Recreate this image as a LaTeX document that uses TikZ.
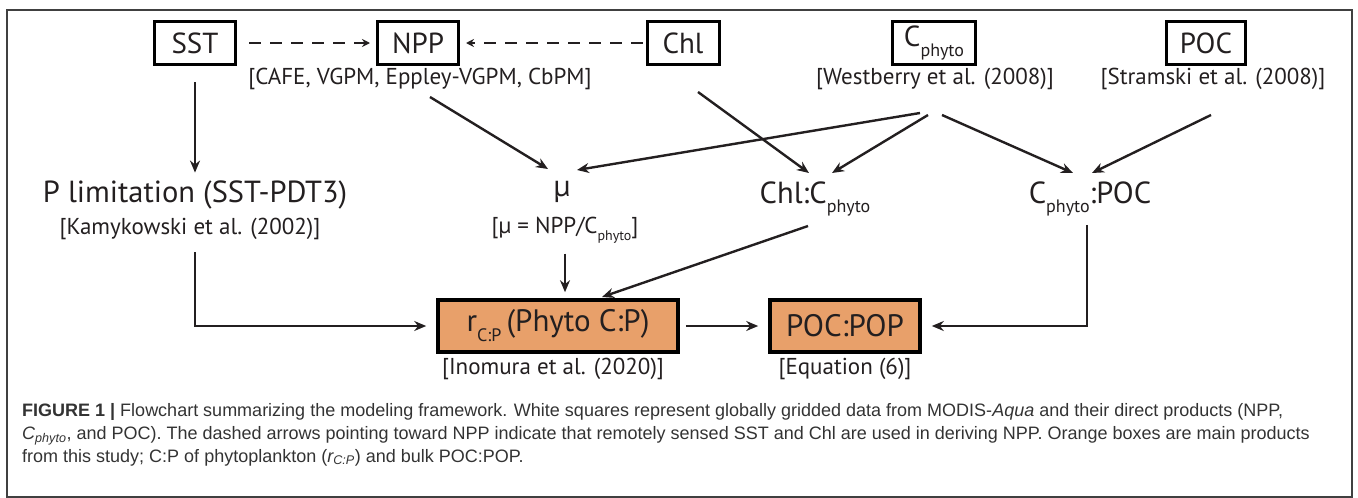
\documentclass[tikz,border=0pt]{standalone}
\usepackage{fontspec}
\setmainfont{PT Sans}
\newfontfamily\capfont{Liberation Sans}
\usetikzlibrary{arrows.meta}
\definecolor{orangebox}{HTML}{E8A06A}
\definecolor{ink}{HTML}{231F20}
\definecolor{capgray}{HTML}{333333}
\newcommand{\sbx}[2]{\raisebox{-0.32em}{\fontsize{#1}{#1}\selectfont #2}}
\begin{document}
\begin{tikzpicture}[x=1pt,y=-1pt,
  databox/.style={draw=black, line width=3pt, minimum height=43pt, inner sep=0pt, font=\fontsize{29}{31}\selectfont, text=ink},
  prodbox/.style={draw=black, fill=orangebox, line width=3.6pt, minimum height=52pt, inner sep=0pt, font=\fontsize{31}{33}\selectfont, text=ink},
  cite/.style={font=\fontsize{23}{26}\selectfont, text=ink, inner sep=0pt},
  big/.style={font=\fontsize{30.5}{32}\selectfont, text=ink, inner sep=0pt},
  arr/.style={-{Stealth[length=12pt,width=10pt]}, line width=2.4pt, draw=ink},
  darr/.style={-{Stealth[length=8pt,width=8pt]}, line width=2.4pt, draw=ink, dash pattern=on 12pt off 9pt},
  capline/.style={anchor=base west, inner sep=0pt, text=capgray, font=\capfont\fontsize{18}{21}\selectfont},
]
\useasboundingbox (0,0) rectangle (1358,498);
\draw[line width=1.4pt, black!75] (7,10) rectangle (1352,497);

% data boxes
\node[databox, minimum width=81pt] (sst) at (195,43) {SST};
\node[databox, minimum width=81pt] (npp) at (418,43) {NPP};
\node[databox, minimum width=72pt] (chl) at (683,43) {Chl};
\node[databox, minimum width=83pt] (cph) at (934,43) {C\sbx{18}{phyto}};
\node[databox, minimum width=79pt] (poc) at (1206,43) {POC};

% citations
\node[cite] (nppcite) at (420,79) {[CAFE, VGPM, Eppley-VGPM, CbPM]};
\node[cite] (cphcite) at (935,79) {[Westberry et al. (2008)]};
\node[cite] (poccite) at (1213,79) {[Stramski et al. (2008)]};

% middle row
\node[big] (plim) at (195,195) {P limitation (SST-PDT3)};
\node[cite] (plimcite) at (190,229) {[Kamykowski et al. (2002)]};
\node[big] (mu) at (562,192) {µ};
\node[cite] (mucite) at (565,230) {[µ = NPP/C\sbx{14}{phyto}]};
\node[big] (chlc) at (815,199) {Chl:C\sbx{18}{phyto}};
\node[big] (cphpoc) at (1090,199) {C\sbx{18}{phyto}:POC};

% product boxes
\node[prodbox, minimum width=240pt] (rcp) at (558,326) {r\sbx{18}{C:P}\,(Phyto C:P)};
\node[cite] (rcpcite) at (553,369) {[Inomura et al. (2020)]};
\node[prodbox, minimum width=150pt] (pocpop) at (845,326) {POC:POP};
\node[cite] (pocpopcite) at (845,369) {[Equation (6)]};

% free ends of diagonal connectors
\coordinate (nppout) at (430,97);
\coordinate (muin1) at (548,169);
\coordinate (cphout1) at (920,113);
\coordinate (muin2) at (577,170);
\coordinate (chlout) at (698,92);
\coordinate (chlcin1) at (809,173);
\coordinate (cphout2) at (928,115);
\coordinate (chlcin2) at (832,173);
\coordinate (cphout3) at (942,115);
\coordinate (cphpocin1) at (1073,173);
\coordinate (pocout) at (1211,115);
\coordinate (cphpocin2) at (1092,173);
\coordinate (chlcout) at (808,226);
\coordinate (rcpin) at (602,297);

% dashed arrows to NPP
\draw[darr, shorten <=12pt, shorten >=6pt] (sst.east) -- (npp.west);
\draw[darr, shorten <=3pt, shorten >=6pt] (chl.west) -- (npp.east);

% solid arrows
\draw[arr, shorten <=16pt, shorten >=8pt] (sst.south) -- (sst.south |- plim.north);
\draw[arr] (nppout) -- (muin1);
\draw[arr] (cphout1) -- (muin2);
\draw[arr] (chlout) -- (chlcin1);
\draw[arr] (cphout2) -- (chlcin2);
\draw[arr] (cphout3) -- (cphpocin1);
\draw[arr] (pocout) -- (cphpocin2);
\draw[arr, shorten <=10pt, shorten >=6pt] (mucite.south) -- (rcp.north -| mucite.south);
\draw[arr] (chlcout) -- (rcpin);
\draw[arr, shorten <=12pt, shorten >=10pt] (plimcite.south -| sst.south) |- (rcp.west);
\draw[arr, shorten <=6pt, shorten >=10pt] (rcp.east) -- (pocpop.west);
\draw[arr, shorten <=8pt, shorten >=10pt] (cphpoc.south -| 1087,0) |- (pocpop.east);

% caption
\node[capline] (cap1) at (22,416) {\textbf{FIGURE 1 |} Flowchart summarizing the modeling framework. White squares represent globally gridded data from MODIS-\textit{Aqua} and their direct products (NPP,};
\node[capline] (cap2) at (22,439) {\textit{C\textsubscript{phyto}}, and POC). The dashed arrows pointing toward NPP indicate that remotely sensed SST and Chl are used in deriving NPP. Orange boxes are main products};
\node[capline] (cap3) at (22,462) {from this study; C:P of phytoplankton (\textit{r\textsubscript{C:P}}) and bulk POC:POP.};
\end{tikzpicture}
\end{document}
